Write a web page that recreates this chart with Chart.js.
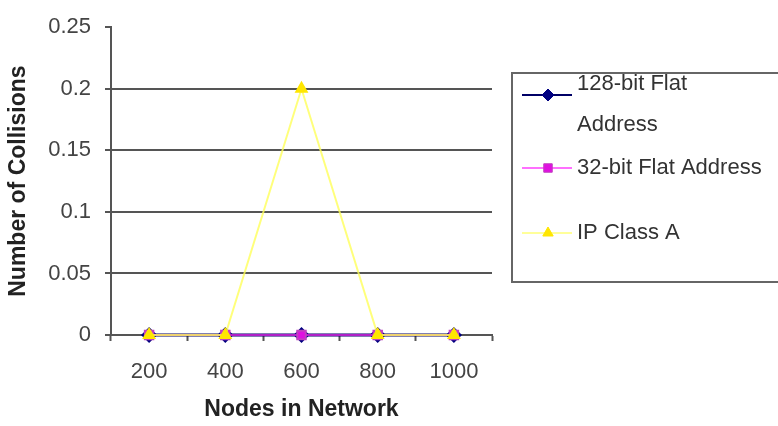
<!DOCTYPE html>
<html>
<head>
<meta charset="utf-8">
<script src="https://cdn.jsdelivr.net/npm/chart.js@4"></script>
<style>
  html, body { margin: 0; padding: 0; background: #fff; }
  canvas { display: block; }
</style>
</head>
<body>
<canvas id="chart" width="778" height="426"></canvas>
<script>
// Collisions per network size for three addressing schemes
const nodes = ['200', '400', '600', '800', '1000'];
const flat128 = [0, 0, 0, 0, 0];
const flat32 = [0, 0, 0, 0, 0];
const ipClassA = [0, 0, 0.2, 0, 0];
const seriesNames = [['128-bit Flat', 'Address'], '32-bit Flat Address', 'IP Class A'];
const yAxisTitle = 'Number of Collisions';
const xAxisTitle = 'Nodes in Network';

const FONT = '"Liberation Sans", Arial, sans-serif';
const AXIS = '#555';

// Boxed legend to the right of the plot, drawn onto the canvas
const boxedLegend = {
  id: 'boxedLegend',
  afterDraw(chart) {
    const ctx = chart.ctx;
    const ds = chart.data.datasets;
    ctx.save();
    ctx.fillStyle = '#fff';
    ctx.fillRect(512, 73, 300, 209);
    ctx.strokeStyle = '#666';
    ctx.lineWidth = 2;
    ctx.strokeRect(512, 73, 300, 209);

    const rows = [
      { sym: 95, text: [84, 125] },
      { sym: 168, text: [168] },
      { sym: 233, text: [233] }
    ];
    ctx.font = '22px ' + FONT;
    ctx.textBaseline = 'middle';
    ctx.textAlign = 'left';
    rows.forEach((r, i) => {
      const d = ds[i];
      ctx.strokeStyle = d.legendLine;
      ctx.lineWidth = 2;
      ctx.beginPath();
      ctx.moveTo(522, r.sym);
      ctx.lineTo(572, r.sym);
      ctx.stroke();
      ctx.fillStyle = d.pointBackgroundColor;
      ctx.strokeStyle = d.pointBorderColor;
      ctx.lineWidth = 1;
      Chart.helpers.drawPoint(ctx, {
        pointStyle: d.pointStyle,
        radius: d.pointRadius,
        borderWidth: 1
      }, 548, r.sym);
      ctx.fillStyle = '#333';
      const label = Array.isArray(seriesNames[i]) ? seriesNames[i] : [seriesNames[i]];
      label.forEach((t, k) => ctx.fillText(t, 577, r.text[k]));
    });
    ctx.restore();
  }
};

new Chart(document.getElementById('chart'), {
  type: 'line',
  data: {
    labels: nodes,
    datasets: [
      {
        label: '128-bit Flat Address',
        data: flat128,
        order: 3,
        clip: false,
        borderColor: '#000066',
        borderWidth: 3,
        pointStyle: 'rectRot',
        pointRadius: 6,
        pointBackgroundColor: '#000080',
        pointBorderColor: '#000080',
        legendLine: '#000066',
        tension: 0
      },
      {
        label: '32-bit Flat Address',
        data: flat32,
        order: 2,
        clip: false,
        borderColor: '#b020c8',
        borderWidth: 2,
        pointStyle: 'rect',
        pointRadius: 6,
        pointBackgroundColor: '#e010e0',
        pointBorderColor: '#c040c0',
        legendLine: '#ff70ff',
        tension: 0
      },
      {
        label: 'IP Class A',
        data: ipClassA,
        order: 1,
        clip: false,
        borderColor: 'rgba(255,255,90,0.8)',
        borderWidth: 2,
        pointStyle: 'triangle',
        pointRadius: 6,
        pointBackgroundColor: '#ffe600',
        pointBorderColor: '#ffe600',
        legendLine: '#ffff99',
        tension: 0
      }
    ]
  },
  options: {
    responsive: false,
    animation: false,
    layout: { padding: { left: 0, top: 21, right: 286, bottom: 0 } },
    plugins: {
      legend: { display: false },
      tooltip: { enabled: false }
    },
    scales: {
      x: {
        offset: true,
        grid: {
          offset: true,
          drawOnChartArea: false,
          drawTicks: true,
          tickLength: 6,
          tickColor: AXIS,
          tickWidth: 2
        },
        border: { color: AXIS, width: 2 },
        ticks: {
          color: '#444',
          font: { family: FONT, size: 22 },
          padding: 18,
          maxRotation: 0
        },
        title: {
          display: true,
          text: xAxisTitle,
          color: '#222',
          font: { family: FONT, size: 23, weight: 'bold' },
          padding: { top: 0, bottom: 3 }
        },
        afterFit(scale) { scale.height = 91; }
      },
      y: {
        min: 0,
        max: 0.25,
        ticks: {
          stepSize: 0.05,
          color: '#444',
          font: { family: FONT, size: 22 },
          padding: 14,
          callback: (v) => String(Number(v.toFixed(2)))
        },
        grid: {
          color: (c) => (c.tick && c.tick.value >= 0.25 ? 'rgba(0,0,0,0)' : AXIS),
          lineWidth: 2,
          drawTicks: true,
          tickLength: 6,
          tickColor: AXIS,
          tickWidth: 2
        },
        border: { color: AXIS, width: 2 },
        title: {
          display: true,
          text: yAxisTitle,
          color: '#222',
          font: { family: FONT, size: 23, weight: 'bold' },
          padding: { top: 5, bottom: 0 }
        },
        afterFit(scale) { scale.width = 111; }
      }
    }
  },
  plugins: [boxedLegend]
});
</script>
</body>
</html>
